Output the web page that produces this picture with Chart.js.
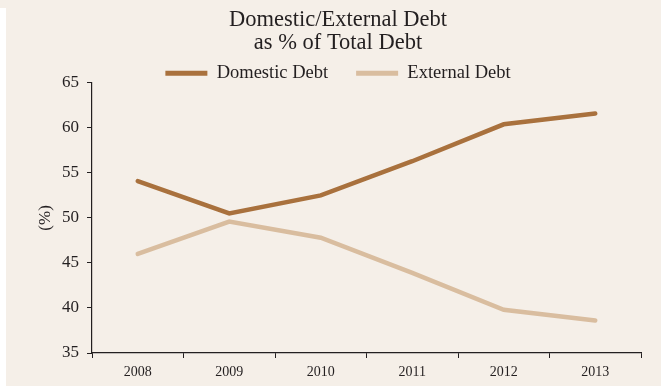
<!DOCTYPE html>
<html>
<head>
<meta charset="utf-8">
<script src="https://cdn.jsdelivr.net/npm/chart.js@4"></script>
<style>
  html, body { margin: 0; padding: 0; background: #f5efe8; }
  #wrap { position: relative; width: 661px; height: 386px; }
  #strip { position: absolute; left: 0; top: 8px; width: 6px; height: 378px; background: #fff; }
</style>
</head>
<body>
<div id="wrap">
  <div id="strip"></div>
  <canvas id="grafik" width="661" height="386"></canvas>
</div>
<script>
const years = ["2008", "2009", "2010", "2011", "2012", "2013"];
const domestic = [54.1, 50.5, 52.5, 56.3, 60.4, 61.6];
const external = [46.0, 49.6, 47.8, 43.9, 39.8, 38.6];
const yTicks = [35, 40, 45, 50, 55, 60, 65];

const ink = "#231f20";
const serif = "'Liberation Serif', 'DejaVu Serif', serif";

const ctx = document.getElementById("grafik").getContext("2d");

new Chart(ctx, {
  type: "line",
  data: {
    labels: years,
    datasets: [
      {
        label: "Domestic Debt",
        data: domestic,
        borderColor: "#a9713d",
        backgroundColor: "#a9713d",
        borderWidth: 4.5,
        pointRadius: 0,
        borderCapStyle: "round",
        tension: 0
      },
      {
        label: "External Debt",
        data: external,
        borderColor: "#d9bd9f",
        backgroundColor: "#d9bd9f",
        borderWidth: 4.5,
        pointRadius: 0,
        borderCapStyle: "round",
        tension: 0
      }
    ]
  },
  options: {
    responsive: false,
    animation: false,
    layout: { padding: { left: 35, right: 20, top: 0, bottom: 0 } },
    plugins: {
      tooltip: { enabled: false },
      title: {
        display: true,
        text: ["Domestic/External Debt", "as % of Total Debt"],
        color: ink,
        font: { family: serif, size: 22.5, weight: "normal", lineHeight: 1.02 },
        padding: { top: 9, bottom: -19 }
      },
      legend: {
        display: true,
        maxHeight: 47,
        labels: {
          color: ink,
          font: { family: serif, size: 18.5 },
          boxWidth: 42,
          boxHeight: 5,
          padding: 28,
          generateLabels(chart) {
            return chart.data.datasets.map((ds, i) => ({
              text: ds.label,
              fillStyle: ds.borderColor,
              strokeStyle: ds.borderColor,
              lineWidth: 0,
              fontColor: ink,
              hidden: false,
              datasetIndex: i
            }));
          }
        }
      }
    },
    scales: {
      x: {
        type: "category",
        offset: true,
        afterFit(scale) { scale.height = 33; },
        grid: {
          offset: true,
          drawOnChartArea: false,
          drawTicks: true,
          tickLength: 5,
          color: ink
        },
        border: { display: true, color: ink, width: 1.2 },
        ticks: {
          color: ink,
          font: { family: serif, size: 14 },
          padding: 6,
          maxRotation: 0
        }
      },
      y: {
        min: 35,
        max: 65,
        afterFit(scale) { scale.width = 57; },
        afterBuildTicks(scale) { scale.ticks = yTicks.map(v => ({ value: v })); },
        grid: {
          drawOnChartArea: false,
          drawTicks: true,
          tickLength: 5,
          color: ink
        },
        border: { display: true, color: ink, width: 1.2 },
        ticks: {
          color: ink,
          font: { family: serif, size: 17 },
          padding: 8
        },
        title: {
          display: true,
          text: "(%)",
          color: ink,
          font: { family: serif, size: 17 },
          padding: 0
        }
      }
    }
  }
});
</script>
</body>
</html>
